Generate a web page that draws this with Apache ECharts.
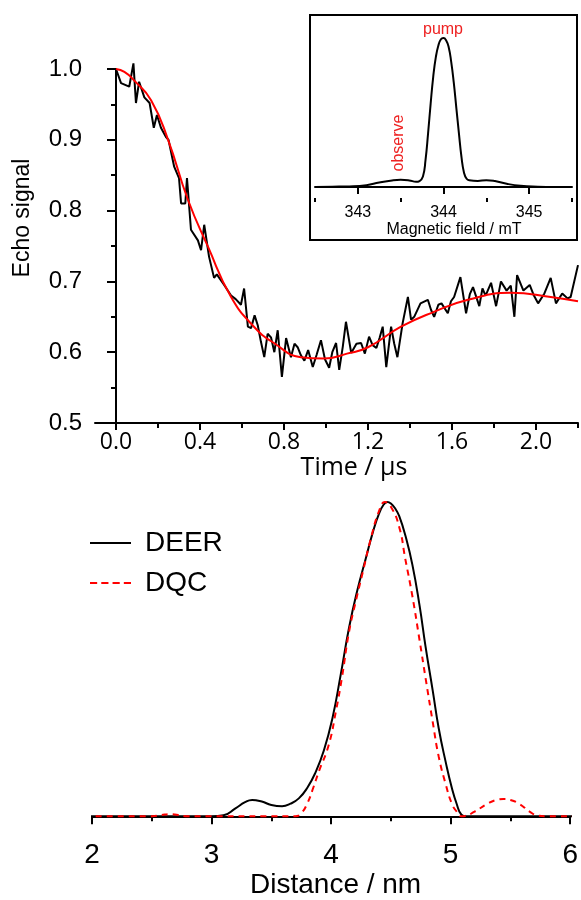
<!DOCTYPE html>
<html>
<head>
<meta charset="utf-8">
<script src="https://cdn.jsdelivr.net/npm/echarts@6/dist/echarts.min.js"></script>
<style>
  html, body { margin: 0; padding: 0; background: #fff; }
  #main { width: 581px; height: 900px; }
</style>
</head>
<body>
<div id="main"></div>
<script>
// Echo decay (time in us, normalised echo)
const echoT = [0.000, 0.024, 0.063, 0.083, 0.095, 0.110, 0.135, 0.160, 0.180, 0.195, 0.214, 0.238, 0.250,
  0.277, 0.300, 0.310, 0.330, 0.338, 0.357, 0.390, 0.405, 0.420, 0.443, 0.467, 0.480, 0.515, 0.548, 0.570,
  0.595, 0.610, 0.628, 0.643, 0.660, 0.675, 0.690, 0.706, 0.722, 0.738, 0.754, 0.770, 0.790, 0.810, 0.833,
  0.850, 0.865, 0.880, 0.897, 0.915, 0.937, 0.955, 0.976, 0.995, 1.015, 1.030, 1.048, 1.063, 1.080, 1.095,
  1.120, 1.145, 1.167, 1.185, 1.205, 1.222, 1.240, 1.255, 1.270, 1.287, 1.310, 1.325, 1.340, 1.365, 1.390,
  1.405, 1.420, 1.450, 1.485, 1.500, 1.515, 1.535, 1.550, 1.580, 1.595, 1.610, 1.640, 1.667, 1.685, 1.700,
  1.730, 1.745, 1.760, 1.786, 1.810, 1.833, 1.860, 1.880, 1.897, 1.910, 1.940, 1.970, 1.990, 2.010, 2.040,
  2.070, 2.095, 2.125, 2.150, 2.165, 2.200];
const echoV = [1.000, 0.980, 0.975, 1.008, 0.952, 0.982, 0.960, 0.952, 0.917, 0.935, 0.917, 0.904, 0.900,
  0.862, 0.846, 0.810, 0.810, 0.846, 0.773, 0.758, 0.744, 0.780, 0.735, 0.705, 0.710, 0.695, 0.680, 0.675,
  0.667, 0.690, 0.636, 0.634, 0.652, 0.638, 0.615, 0.593, 0.626, 0.621, 0.600, 0.631, 0.565, 0.620, 0.593,
  0.612, 0.607, 0.596, 0.588, 0.603, 0.579, 0.596, 0.617, 0.590, 0.578, 0.600, 0.613, 0.575, 0.608, 0.643,
  0.599, 0.612, 0.613, 0.598, 0.622, 0.610, 0.606, 0.620, 0.636, 0.579, 0.636, 0.612, 0.593, 0.641, 0.678,
  0.646, 0.650, 0.669, 0.674, 0.660, 0.650, 0.667, 0.669, 0.655, 0.672, 0.678, 0.706, 0.655, 0.682, 0.692,
  0.665, 0.690, 0.680, 0.698, 0.665, 0.700, 0.687, 0.694, 0.650, 0.709, 0.687, 0.695, 0.680, 0.669, 0.683,
  0.705, 0.669, 0.683, 0.676, 0.678, 0.723];

// Fitted curve
const fitT = [0.000, 0.040, 0.086, 0.167, 0.248, 0.343, 0.438, 0.548, 0.657, 0.752, 0.880, 0.990, 1.100,
  1.200, 1.357, 1.514, 1.676, 1.880, 2.070, 2.200];
const fitV = [1.000, 0.996, 0.984, 0.956, 0.900, 0.815, 0.749, 0.678, 0.636, 0.613, 0.593, 0.591, 0.598,
  0.607, 0.636, 0.657, 0.674, 0.684, 0.678, 0.672];

// Inset EPR spectrum (field in mT, normalised)
const fieldB = [342.50, 342.70, 342.90, 343.10, 343.25, 343.40, 343.50, 343.60, 343.68, 343.72, 343.76,
  343.79, 343.82, 343.85, 343.88, 343.91, 343.94, 343.97, 344.00, 344.03, 344.06, 344.09, 344.12, 344.15,
  344.18, 344.21, 344.24, 344.27, 344.30, 344.40, 344.50, 344.60, 344.75, 344.90, 345.10, 345.30, 345.50];
const fieldI = [0.000, 0.002, 0.004, 0.012, 0.030, 0.044, 0.048, 0.044, 0.035, 0.040, 0.070,
  0.180, 0.360, 0.560, 0.740, 0.870, 0.950, 0.992, 1.000, 0.985, 0.940, 0.840, 0.700, 0.530,
  0.360, 0.200, 0.094, 0.055, 0.045, 0.040, 0.046, 0.040, 0.020, 0.008, 0.002, 0.000, 0.000];

// Distance distributions (nm)
const deerR = [1.94, 2.50, 3.00, 3.10, 3.20, 3.28, 3.34, 3.42, 3.50, 3.59, 3.66, 3.73, 3.80, 3.87, 3.94,
  4.01, 4.08, 4.15, 4.22, 4.29, 4.35, 4.40, 4.44, 4.47, 4.50, 4.54, 4.57, 4.62, 4.68, 4.74, 4.79, 4.85,
  4.90, 4.96, 5.01, 5.05, 5.09, 5.13, 6.07];
const deerP = [0, 0, 0, 0.003, 0.025, 0.045, 0.052, 0.047, 0.036, 0.032, 0.040, 0.057, 0.090, 0.140, 0.210,
  0.310, 0.450, 0.600, 0.720, 0.820, 0.905, 0.962, 0.992, 1.000, 0.995, 0.977, 0.955, 0.895, 0.800, 0.670,
  0.540, 0.400, 0.280, 0.170, 0.090, 0.040, 0.005, 0, 0];
const dqcR = [1.94, 2.50, 2.58, 2.65, 2.72, 2.80, 3.70, 3.75, 3.80, 3.85, 3.90, 3.98, 4.04, 4.09, 4.15,
  4.21, 4.27, 4.33, 4.40, 4.45, 4.50, 4.57, 4.62, 4.68, 4.74, 4.79, 4.85, 4.90, 4.96, 5.01, 5.05, 5.09,
  5.12, 5.20, 5.30, 5.38, 5.44, 5.50, 5.58, 5.66, 5.73, 5.80, 6.07];
const dqcP = [0, 0, 0.004, 0.007, 0.004, 0, 0, 0.010, 0.040, 0.090, 0.145, 0.227, 0.334, 0.440, 0.587,
  0.690, 0.785, 0.880, 0.970, 1.000, 0.985, 0.920, 0.820, 0.700, 0.560, 0.440, 0.300, 0.190, 0.100,
  0.040, 0.015, 0, 0.001, 0.015, 0.038, 0.052, 0.055, 0.052, 0.038, 0.015, 0.002, 0, 0];

const timeMajor = [0, 0.4, 0.8, 1.2, 1.6, 2.0];
const timeMinor = [0.2, 0.6, 1.0, 1.4, 1.8, 2.2];
const fieldMajor = [343, 344, 345];
const fieldMinor = [342.5, 343.5, 344.5, 345.5];

const zip = (xs, ys) => xs.map((x, i) => [x, ys[i]]);

const arial = 'Liberation Sans, Arial, sans-serif';
const axisLine = { lineStyle: { color: '#000', width: 2 } };
const tickStyle = { color: '#000', width: 2 };

// legend glyphs: solid bar and dashed bar
const solidIcon = 'path://M0,0H40V2H0Z';
const dashIcon = 'path://M0,0H7V2H0Z M11,0H18V2H11Z M22,0H29V2H22Z M33,0H40V2H33Z';

let chart = echarts.init(document.getElementById('main'), null, { renderer: 'canvas' });

let option = {
  animation: false,
  backgroundColor: '#fff',
  grid: [
    { left: 95, right: 3, top: 69, bottom: 477 },   // echo decay
    { left: 315, right: 9, top: 30, bottom: 702 },  // inset spectrum
    { left: 92, right: 9, top: 502, bottom: 65 }    // distance distribution
  ],
  legend: {
    data: [{ name: 'DEER', icon: solidIcon }, { name: 'DQC', icon: dashIcon }],
    orient: 'vertical',
    left: 90,
    top: 529,
    padding: 0,
    itemWidth: 41,
    itemHeight: 14,
    itemGap: 12,
    textStyle: { fontFamily: arial, fontSize: 28, color: '#000', padding: [0, 0, 0, 9] }
  },
  xAxis: [
    {
      gridIndex: 0, type: 'value', min: -0.1, max: 2.2, position: 'bottom',
      axisLine: axisLine,
      axisTick: { customValues: timeMajor, length: 7, lineStyle: tickStyle },
      axisLabel: {
        customValues: timeMajor, margin: 8, color: '#000', fontFamily: 'Open Sans', fontSize: 23,
        formatter: v => v.toFixed(1)
      },
      splitLine: { show: false },
      name: 'Time / μs', nameLocation: 'middle', nameGap: 31,
      nameTextStyle: { fontFamily: 'Open Sans', fontSize: 25, color: '#000', padding: [0, 0, 0, 35] }
    },
    {
      gridIndex: 0, type: 'value', min: -0.1, max: 2.2, position: 'bottom',
      axisLine: { show: false },
      axisTick: { customValues: timeMinor, length: 5, lineStyle: tickStyle },
      axisLabel: { show: false },
      splitLine: { show: false }
    },
    {
      gridIndex: 1, type: 'value', min: 342.5, max: 345.5, position: 'bottom',
      axisLine: axisLine,
      axisTick: { customValues: fieldMajor, length: 7, lineStyle: tickStyle },
      axisLabel: { customValues: fieldMajor, margin: 7, color: '#000', fontFamily: arial, fontSize: 16 },
      splitLine: { show: false },
      name: 'Magnetic field / mT', nameLocation: 'middle', nameGap: 24,
      nameTextStyle: { fontFamily: arial, fontSize: 16, color: '#000', padding: [0, 0, 0, 21] }
    },
    {
      gridIndex: 1, type: 'value', min: 342.5, max: 345.5, position: 'bottom',
      axisLine: { show: false },
      axisTick: { customValues: fieldMinor, length: 4, lineStyle: tickStyle },
      axisLabel: { show: false },
      splitLine: { show: false }
    },
    {
      gridIndex: 2, type: 'value', min: 2, max: 6, interval: 1, position: 'bottom',
      axisLine: axisLine,
      axisTick: { length: 8, lineStyle: tickStyle },
      minorTick: { show: true, splitNumber: 2, length: 5, lineStyle: tickStyle },
      axisLabel: { margin: 9, color: '#000', fontFamily: arial, fontSize: 28 },
      splitLine: { show: false },
      name: 'Distance / nm', nameLocation: 'middle', nameGap: 39,
      nameTextStyle: { fontFamily: arial, fontSize: 28, color: '#000', padding: [0, 0, 0, 9] }
    }
  ],
  yAxis: [
    {
      gridIndex: 0, type: 'value', min: 0.5, max: 1.0, interval: 0.1,
      axisLine: { show: true, lineStyle: { color: '#000', width: 2 } },
      axisTick: { show: true, length: 9, lineStyle: tickStyle },
      minorTick: { show: true, splitNumber: 2, length: 5, lineStyle: tickStyle },
      axisLabel: { margin: 13, color: '#000', fontFamily: arial, fontSize: 24, formatter: v => v.toFixed(1) },
      splitLine: { show: false },
      name: 'Echo signal', nameLocation: 'middle', nameGap: 61,
      nameTextStyle: { fontFamily: arial, fontSize: 23, color: '#000', padding: [0, 0, 0, 56] }
    },
    { gridIndex: 1, type: 'value', min: -0.074, max: 1.054, show: false },
    { gridIndex: 2, type: 'value', min: -0.05, max: 1.0, show: false }
  ],
  series: [
    {
      type: 'line', xAxisIndex: 0, yAxisIndex: 0, data: zip(echoT, echoV),
      symbol: 'none', clip: false, lineStyle: { color: '#000', width: 2 }, z: 3
    },
    {
      type: 'line', xAxisIndex: 0, yAxisIndex: 0, data: zip(fitT, fitV),
      symbol: 'none', smooth: true, clip: false, lineStyle: { color: '#ff0000', width: 2 }, z: 4
    },
    {
      type: 'line', xAxisIndex: 2, yAxisIndex: 1, data: zip(fieldB, fieldI),
      symbol: 'none', smooth: true, lineStyle: { color: '#000', width: 2 }
    },
    {
      name: 'DEER', type: 'line', xAxisIndex: 4, yAxisIndex: 2, data: zip(deerR, deerP),
      symbol: 'none', smooth: true, clip: false, lineStyle: { color: '#000', width: 2 }, itemStyle: { color: '#000' }
    },
    {
      name: 'DQC', type: 'line', xAxisIndex: 4, yAxisIndex: 2, data: zip(dqcR, dqcP),
      symbol: 'none', smooth: true, clip: false,
      lineStyle: { color: '#ff0000', width: 2, type: [6, 5] }, itemStyle: { color: '#ff0000' }
    }
  ],
  graphic: [
    // inset frame
    { type: 'rect', shape: { x: 310, y: 15, width: 267, height: 225 }, style: { fill: 'none', stroke: '#000', lineWidth: 2 } },
    { type: 'text', x: 443, y: 30, style: { text: 'pump', fill: '#ee2222', font: '16px Liberation Sans', align: 'center', verticalAlign: 'middle' } },
    { type: 'text', x: 399, y: 143, rotation: Math.PI / 2, style: { text: 'observe', fill: '#ee2222', font: '16px Liberation Sans', align: 'center', verticalAlign: 'middle' } }
  ]
};

chart.setOption(option);
</script>
</body>
</html>
